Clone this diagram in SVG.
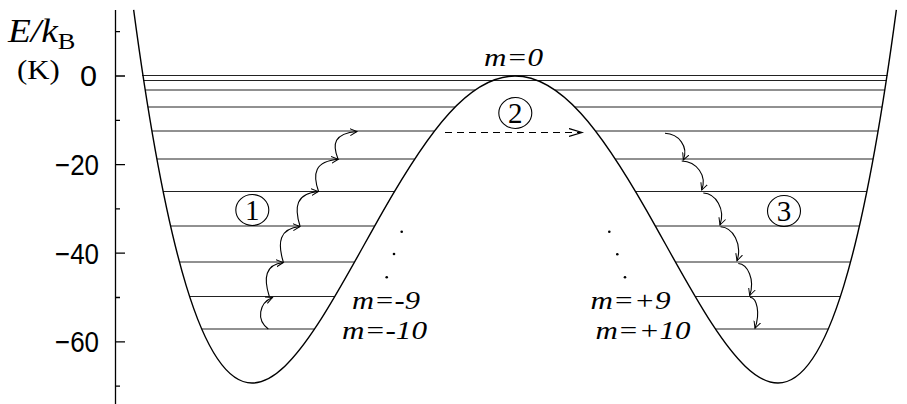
<svg xmlns="http://www.w3.org/2000/svg" width="907" height="404" viewBox="0 0 907 404">
<style>
.lvl{stroke:#222;stroke-width:1;fill:none}
.curve{fill:none;stroke:#000;stroke-width:1.4}
.axis{stroke:#000;stroke-width:1.3;fill:none}
.arr{fill:none;stroke:#000;stroke-width:1.1;marker-end:url(#ah)}
.dash{fill:none;stroke:#000;stroke-width:1.2;stroke-dasharray:7 5;marker-end:url(#ahd)}
.ml{font-family:"Liberation Serif","Times New Roman",serif;font-style:italic;font-size:26px}
.tk{font-family:"Liberation Sans",Arial,sans-serif;font-size:29px;text-anchor:end}
.cn{font-family:"Liberation Serif","Times New Roman",serif;font-size:29px;text-anchor:middle}
.circ{fill:none;stroke:#000;stroke-width:1.1}
</style>
<defs>
<marker id="ah" markerWidth="10" markerHeight="10" refX="7" refY="4" orient="auto" markerUnits="userSpaceOnUse"><path d="M0,0.5 L7,4 L0,7.5" fill="none" stroke="#000" stroke-width="1"/></marker>
<marker id="ahd" markerWidth="16" markerHeight="12" refX="13" refY="5" orient="auto" markerUnits="userSpaceOnUse"><path d="M0,1 L13,5 L0,9" fill="none" stroke="#000" stroke-width="1.2"/></marker>
</defs>
<g id="axis">
<line class="axis" x1="115.5" y1="10" x2="115.5" y2="404"/>
<path class="axis" d="M115.5,76 H125 M115.5,164.6 H125 M115.5,253.2 H125 M115.5,341.8 H125 M115.5,31.7 H120 M115.5,120.3 H120 M115.5,208.9 H120 M115.5,297.5 H120 M115.5,386.1 H120"/>
<text class="tk" x="97" y="86" textLength="17" lengthAdjust="spacingAndGlyphs">0</text>
<text class="tk" x="99" y="175" textLength="44" lengthAdjust="spacingAndGlyphs">−20</text>
<text class="tk" x="99" y="263.5" textLength="44" lengthAdjust="spacingAndGlyphs">−40</text>
<text class="tk" x="99" y="352" textLength="44" lengthAdjust="spacingAndGlyphs">−60</text>
<g transform="translate(8,42) scale(1.1,1)"><text font-family="'Liberation Serif','Times New Roman',serif"><tspan font-style="italic" font-size="34">E/k</tspan><tspan font-size="24" dy="6.5">B</tspan></text></g>
<g transform="translate(17,79) scale(1.1,1)"><text font-family="'Liberation Serif','Times New Roman',serif" font-size="28">(K)</text></g>
</g>
<g id="levels">
<path class="lvl" d="M142,75.5 H887.5 M143,80.5 H886.5"/>
<path class="lvl" d="M145.2,90 H475.1 M554.9,90 H884.8"/>
<path class="lvl" d="M147.9,107 H455.1 M574.9,107 H882.1"/>
<path class="lvl" d="M151.9,131 H434.4 M595.6,131 H878.1"/>
<path class="lvl" d="M156.9,159 H414.6 M615.4,159 H873.1"/>
<path class="lvl" d="M163.1,191.5 H394.5 M635.5,191.5 H866.9"/>
<path class="lvl" d="M170.6,226 H374.6 M655.4,226 H859.4"/>
<path class="lvl" d="M179.5,262 H354.6 M675.4,262 H850.6"/>
<path class="lvl" d="M189.6,296.5 H334.9 M695.1,296.5 H840.4"/>
<path class="lvl" d="M201.7,329 H314.6 M715.4,329 H828.3"/>
</g>
<g id="potential">
<path class="curve" d="M133.65,9.84 C151.18,140.71 168.72,228.30 186.25,285.86 C208.17,357.82 230.08,383 252,383 C273.92,383 295.83,357.82 317.75,324.24 C339.67,290.66 361.58,248.69 383.5,210.31 C405.42,171.93 427.33,137.16 449.25,113.17 C471.17,89.19 493.08,76 515,76 C536.92,76 558.83,89.19 580.75,113.17 C602.67,137.16 624.58,171.93 646.5,210.31 C668.42,248.69 690.33,290.66 712.25,324.24 C734.17,357.82 756.08,383 778,383 C799.92,383 821.83,357.82 843.75,285.86 C861.28,228.30 878.82,140.71 896.35,9.84"/>
</g>
<g id="connectors">
<path class="arr" d="M268.3,329 C256,320 259,303 272.5,297.5"/>
<path class="arr" d="M269.3,296.5 C263.3,277.8 265.3,264.5 283.3,262.5"/>
<path class="arr" d="M283.3,262 C277.3,242.5 279.3,228.5 300,226.5"/>
<path class="arr" d="M300,226 C294,207 296,193.5 318.3,191.5"/>
<path class="arr" d="M318.5,191.3 C312.5,173.7 314.5,161.3 338.3,159.3"/>
<path class="arr" d="M338,159 C332,143.9 334,133.5 357,131.5"/>
<path class="dash" d="M445,132.5 H582"/>
<path class="arr" d="M665,133.3 C678.7,133.8 688.8,146.6 683.3,160"/>
<path class="arr" d="M681.7,161 C696.7,161.6 707.2,175.5 701.7,190"/>
<path class="arr" d="M703.3,193 C715.8,193.6 725.5,209 720,225"/>
<path class="arr" d="M720.5,226.7 C732.9,227.4 742.5,243.8 737,260.8"/>
<path class="arr" d="M738.3,263.5 C747.5,264.1 755.2,279.5 749.7,295.5"/>
<path class="arr" d="M750,297.3 C756.8,297.9 760.5,312.8 755,328.3"/>
</g>
<g id="label-1"><ellipse class="circ" cx="252.3" cy="210" rx="16.5" ry="15.5"/><text class="cn" x="252.3" y="220">1</text></g>
<g id="label-2"><ellipse class="circ" cx="515.3" cy="113" rx="16.5" ry="15.5"/><text class="cn" x="515.3" y="123">2</text></g>
<g id="label-3"><ellipse class="circ" cx="784" cy="211" rx="16.5" ry="15.5"/><text class="cn" x="784" y="221">3</text></g>
<g id="m-labels">
<text class="ml" x="484" y="66" textLength="59" lengthAdjust="spacingAndGlyphs">m=0</text>
<text class="ml" x="352" y="309" textLength="68" lengthAdjust="spacingAndGlyphs">m=-9</text>
<text class="ml" x="342" y="339" textLength="85" lengthAdjust="spacingAndGlyphs">m=-10</text>
<text class="ml" x="590.5" y="309" textLength="80" lengthAdjust="spacingAndGlyphs">m=+9</text>
<text class="ml" x="595.5" y="339" textLength="95" lengthAdjust="spacingAndGlyphs">m=+10</text>
<circle cx="401.7" cy="231.7" r="1.3"/><circle cx="394" cy="254" r="1.3"/><circle cx="386.7" cy="277.3" r="1.3"/>
<circle cx="609.3" cy="231.7" r="1.3"/><circle cx="617.3" cy="254.3" r="1.3"/><circle cx="625" cy="277.3" r="1.3"/>
</g>
</svg>
